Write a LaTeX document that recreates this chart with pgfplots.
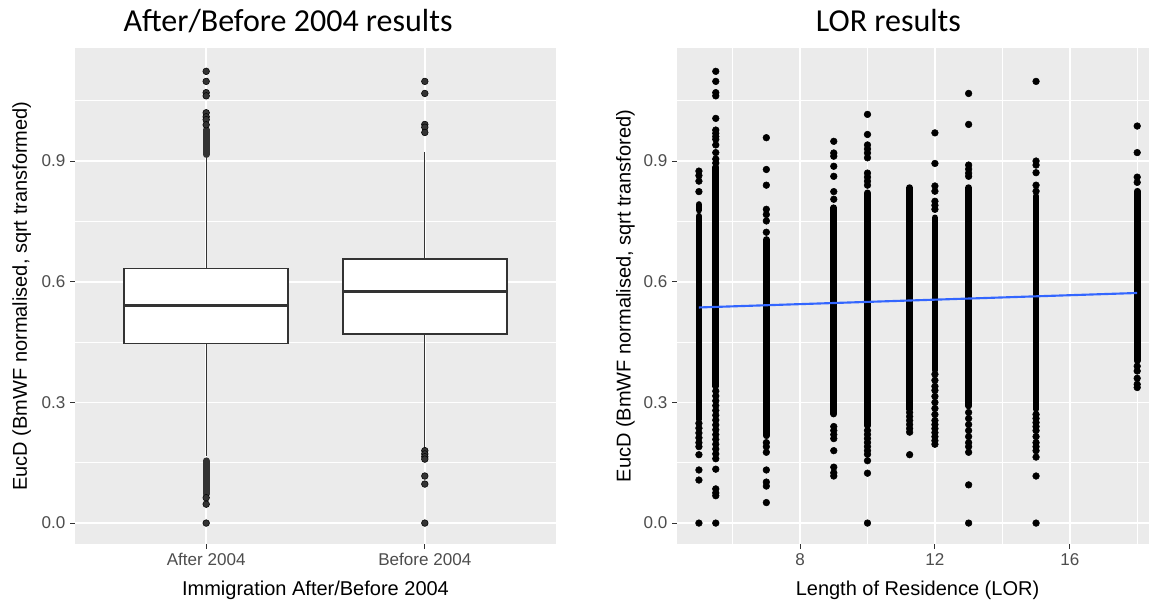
\documentclass[border=0pt]{standalone}
\usepackage{pgfplots}
\pgfplotsset{compat=1.18}
\usepackage{fontspec}
\setmainfont{Liberation Sans}
\newfontfamily\titlefont{Carlito}
\definecolor{panelbg}{HTML}{EBEBEB}
\definecolor{boxcol}{HTML}{333333}
\definecolor{tickgray}{HTML}{4D4D4D}
\definecolor{smoothcol}{HTML}{3366FF}
\pgfplotsset{
  ggstyle/.style={
    scale only axis,
    height=372pt,
    ymin=-0.052, ymax=1.181,
    ytick={0,0.3,0.6,0.9},
    yticklabels={0.0,0.3,0.6,0.9},
    minor ytick={0.15,0.45,0.75,1.05},
    axis background/.style={fill=panelbg},
    axis x line*=bottom, axis y line*=left,
    axis line style={draw=none},
    ymajorgrids, yminorgrids, xmajorgrids,
    major grid style={white, line width=1.3pt},
    minor grid style={white, line width=0.65pt},
    tick align=outside,
    major tick length=3.7pt,
    minor tick length=0pt,
    tick style={boxcol, line width=0.8pt},
    tick label style={font=\fontsize{12.8}{15}\selectfont, text=tickgray},
    /pgf/number format/assume math mode=true,
    label style={font=\fontsize{15}{18}\selectfont, text=black},
    clip=true,
  }
}
\begin{document}
\begin{tikzpicture}
\useasboundingbox (0,0) rectangle (861.75pt,453pt);
\fill[white] (0,0) rectangle (861.75pt,453pt);
% ---------------- left panel ----------------
\begin{axis}[ggstyle,
  at={(56.25pt,45pt)}, anchor=south west,
  width=360.75pt,
  xmin=0.4, xmax=2.6,
  xtick={1,2}, xticklabels={After 2004, Before 2004},
  xlabel={Immigration After/Before 2004},
  ylabel={EucD (BmWF normalised, sqrt transformed)},
  xlabel style={at={(axis description cs:0.5,-0.0927)}, anchor=center},
  ylabel style={at={(axis description cs:-0.111,0.5)}, anchor=center},
]
% whiskers
\addplot[boxcol, line width=0.9pt, unbounded coords=jump] coordinates {
 (1,0.633)(1,0.912) (1,nan) (1,0.446)(1,0.167) (1,nan)
 (2,0.657)(2,0.922) (2,nan) (2,0.470)(2,0.184)};
% boxes
\addplot[draw=boxcol, fill=white, line width=1.1pt] coordinates {(0.625,0.446)(1.375,0.446)(1.375,0.633)(0.625,0.633)} -- cycle;
\addplot[draw=boxcol, fill=white, line width=1.1pt] coordinates {(1.625,0.470)(2.375,0.470)(2.375,0.657)(1.625,0.657)} -- cycle;
% medians
\addplot[boxcol, line width=2.2pt] coordinates {(0.625,0.540)(1.375,0.540)};
\addplot[boxcol, line width=2.2pt] coordinates {(1.625,0.576)(2.375,0.576)};
% dense outlier runs
\addplot[boxcol, line width=5pt, line cap=round, unbounded coords=jump] coordinates {
 (1,0.916)(1,0.978) (1,nan) (1,0.072)(1,0.155)};
% outliers
\addplot[only marks, mark=*, mark size=2.5pt, mark options={draw=none, fill=boxcol}] coordinates {
 (1,1.123)(1,1.098)(1,1.070)(1,1.062)(1,1.020)(1,1.010)(1,1.003)(1,0.990)
 (1,0.063)(1,0.047)(1,0.000)
 (2,1.098)(2,1.068)(2,0.991)(2,0.984)(2,0.971)
 (2,0.180)(2,0.172)(2,0.165)(2,0.159)(2,0.117)(2,0.097)(2,0.000)};
\end{axis}
% ---------------- right panel ----------------
\begin{axis}[ggstyle,
  at={(507.75pt,45pt)}, anchor=south west,
  width=354pt,
  xmin=4.35, xmax=18.35,
  xtick={8,12,16}, xticklabels={8,12,16}, minor xtick={6,10,14,18}, xminorgrids,
  xlabel={Length of Residence (LOR)},
  ylabel={EucD (BmWF normalised, sqrt transfored)},
  xlabel style={at={(axis description cs:0.5095,-0.0927)}, anchor=center},
  ylabel style={at={(axis description cs:-0.1093,0.5)}, anchor=center},
]
% dense runs of points
\addplot[black, line width=5pt, line cap=round, unbounded coords=jump] coordinates {
 (5,0.258)(5,0.763) (5,nan) (5,0.778)(5,0.792) (5,nan)
 (5.5,0.340)(5.5,0.885) (5.5,nan)
 (7,0.217)(7,0.705) (7,nan)
 (9,0.271)(9,0.784) (9,nan)
 (10,0.242)(10,0.821) (10,nan)
 (11.25,0.283)(11.25,0.834) (11.25,nan)
 (12,0.380)(12,0.759) (12,nan)
 (13,0.291)(13,0.834) (13,nan)
 (15,0.283)(15,0.813) (15,nan)
 (18,0.403)(18,0.825)};
% single points
\addplot[only marks, mark=*, mark size=2.5pt, mark options={draw=none, fill=black}] coordinates {
 (5,0.875)(5,0.864)(5,0.850)(5,0.824)
 (5,0.248)(5,0.236)(5,0.224)(5,0.212)(5,0.200)(5,0.190)(5,0.170)(5,0.132)(5,0.107)(5,0.000)
 (5.5,1.123)(5.5,1.098)(5.5,1.070)(5.5,1.062)(5.5,1.006)(5.5,0.977)(5.5,0.969)(5.5,0.961)(5.5,0.954)(5.5,0.940)(5.5,0.921)(5.5,0.905)(5.5,0.895)
 (5.5,0.328)(5.5,0.316)(5.5,0.304)(5.5,0.292)(5.5,0.280)(5.5,0.268)(5.5,0.256)(5.5,0.244)(5.5,0.232)(5.5,0.220)(5.5,0.208)(5.5,0.196)(5.5,0.184)(5.5,0.172)(5.5,0.160)
 (5.5,0.134)(5.5,0.085)(5.5,0.075)(5.5,0.068)(5.5,0.000)
 (7,0.958)(7,0.879)(7,0.840)(7,0.780)(7,0.767)(7,0.751)(7,0.723)
 (7,0.200)(7,0.190)(7,0.176)(7,0.132)(7,0.102)(7,0.092)(7,0.051)
 (9,0.949)(9,0.920)(9,0.912)(9,0.887)(9,0.862)(9,0.824)(9,0.805)
 (9,0.240)(9,0.230)(9,0.220)(9,0.210)(9,0.180)(9,0.139)(9,0.125)(9,0.117)
 (10,1.016)(10,0.966)(10,0.940)(10,0.930)(10,0.920)(10,0.908)(10,0.870)(10,0.860)(10,0.850)(10,0.840)
 (10,0.230)(10,0.220)(10,0.210)(10,0.200)(10,0.190)(10,0.180)(10,0.171)(10,0.155)(10,0.124)(10,0.000)
 (11.25,0.275)(11.25,0.265)(11.25,0.255)(11.25,0.245)(11.25,0.235)(11.25,0.226)(11.25,0.170)
 (12,0.970)(12,0.894)(12,0.838)(12,0.825)(12,0.800)(12,0.790)(12,0.780)
 (12,0.370)(12,0.355)(12,0.340)(12,0.330)(12,0.315)(12,0.300)(12,0.285)(12,0.270)(12,0.255)(12,0.245)(12,0.235)(12,0.225)(12,0.215)(12,0.205)(12,0.196)
 (13,1.068)(13,0.991)(13,0.890)(13,0.880)(13,0.870)(13,0.862)
 (13,0.275)(13,0.260)(13,0.245)(13,0.230)(13,0.215)(13,0.200)(13,0.190)(13,0.176)(13,0.095)(13,0.000)
 (15,1.098)(15,0.900)(15,0.890)(15,0.871)(15,0.840)(15,0.825)
 (15,0.270)(15,0.260)(15,0.250)(15,0.240)(15,0.230)(15,0.215)(15,0.200)(15,0.190)(15,0.180)(15,0.164)(15,0.117)(15,0.000)
 (18,0.987)(18,0.921)(18,0.860)(18,0.847)
 (18,0.390)(18,0.378)(18,0.360)(18,0.345)(18,0.337)};
% linear fit
\addplot[smoothcol, line width=1.6pt] coordinates {(5,0.536)(18,0.572)};
\end{axis}
% titles
\node[font=\titlefont\fontsize{24}{28}\selectfont, anchor=base] at (216pt,429pt) {After/Before 2004 results};
\node[font=\titlefont\fontsize{24}{28}\selectfont, anchor=base] at (666.3pt,429pt) {LOR results};
\end{tikzpicture}
\end{document}
